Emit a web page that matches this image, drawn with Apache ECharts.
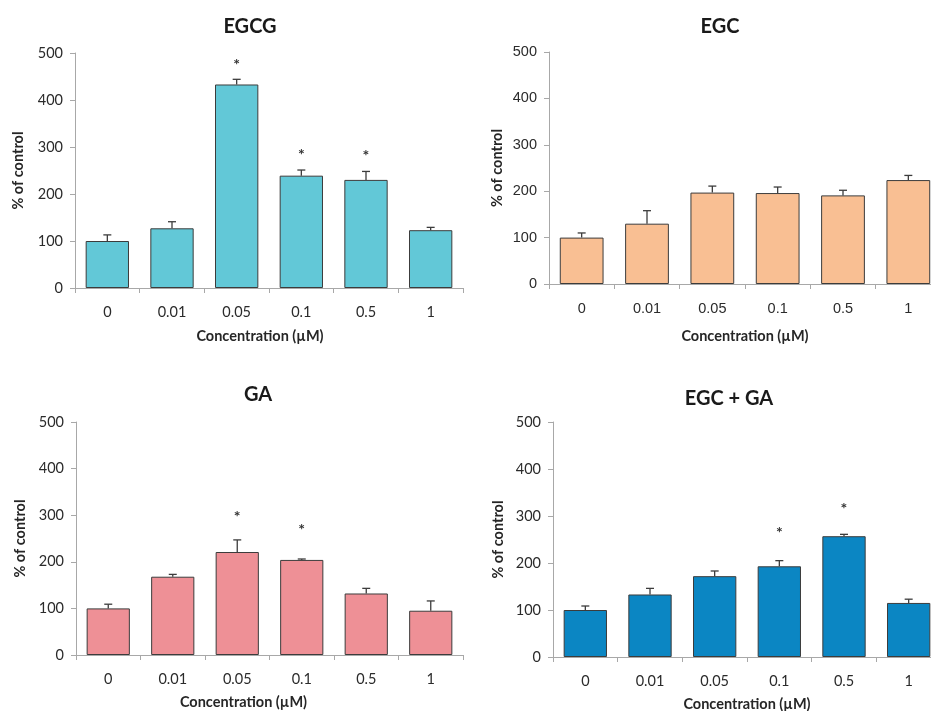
<!DOCTYPE html>
<html>
<head>
<meta charset="utf-8">
<script src="https://cdn.jsdelivr.net/npm/echarts@6/dist/echarts.min.js"></script>
<style>
html,body{margin:0;padding:0;background:#fff;}
#chart{width:931px;height:711px;}
</style>
</head>
<body>
<div id="chart"></div>
<script>
var categories = ['0', '0.01', '0.05', '0.1', '0.5', '1'];
var yTicks = [0, 100, 200, 300, 400, 500];

var egcgMean = [100, 127, 433, 239, 230, 123];
var egcgErr  = [13, 14, 11, 12, 18, 6];
var egcgStars = [null, null, 475, 283, 281, null];

var egcMean = [100, 130, 197, 196, 191, 224];
var egcErr  = [10, 28, 14, 13, 11, 10];
var egcStars = [null, null, null, null, null, null];

var gaMean = [100, 168, 221, 204, 132, 95];
var gaErr  = [9, 5, 26, 2, 11, 21];
var gaStars = [null, null, 296, 268, null, null];

var combMean = [100, 133, 172, 193, 257, 115];
var combErr  = [8.5, 13, 11, 12, 4, 8];
var combStars = [null, null, null, 265, 315, null];

var panels = [
  {title: 'EGCG', color: '#62c8d7', mean: egcgMean, err: egcgErr, stars: egcgStars,
   grid: {left: 75, top: 53, width: 388, height: 235}, font: 'Lato',
   titlePos: [250, 27], xGap: 41, xPad: [0, 18, 0, 0], yGap: 49},
  {title: 'EGC', color: '#f9bf93', mean: egcMean, err: egcErr, stars: egcStars,
   grid: {left: 549, top: 52, width: 392, height: 232}, font: 'Liberation Sans',
   titlePos: [720, 27], xGap: 45, xPad: [0, 0, 0, 0], yGap: 44},
  {title: 'GA', color: '#ee9096', mean: gaMean, err: gaErr, stars: gaStars,
   grid: {left: 76, top: 422, width: 387, height: 233}, font: 'Lato',
   titlePos: [258, 395], xGap: 40, xPad: [0, 52, 0, 0], yGap: 48},
  {title: 'EGC + GA', color: '#0b86c3', mean: combMean, err: combErr, stars: combStars,
   grid: {left: 553, top: 422, width: 388, height: 235}, font: 'Lato',
   titlePos: [729, 399], xGap: 40, xPad: [0, 0, 0, 0], yGap: 47}
];

var grids = [], xAxes = [], yAxes = [], series = [], graphics = [];
var axisGray = '#a8a8a8';

panels.forEach(function (p, i) {
  var g = Object.assign({outerBoundsMode: 'none', containLabel: false}, p.grid);
  grids.push(g);
  xAxes.push({
    type: 'category', gridIndex: i, data: categories, boundaryGap: true,
    name: 'Concentration (µM)', nameLocation: 'middle', nameGap: p.xGap,
    nameTextStyle: {fontFamily: 'Lato', fontWeight: 'bold', fontSize: 14.5, color: '#262626', padding: p.xPad},
    axisLine: {show: true, lineStyle: {color: axisGray, width: 1}},
    axisTick: {show: true, length: 5, inside: false, lineStyle: {color: axisGray}},
    axisLabel: {fontFamily: p.font, fontSize: 14.5, color: '#2b2b2b', margin: 17},
    splitLine: {show: false}
  });
  yAxes.push({
    type: 'value', gridIndex: i, min: 0, max: 500, interval: 100,
    name: '% of control', nameLocation: 'middle', nameGap: p.yGap, nameRotate: 90,
    nameTextStyle: {fontFamily: 'Lato', fontWeight: 'bold', fontSize: 14.5, color: '#262626'},
    axisLine: {show: true, lineStyle: {color: axisGray, width: 1}},
    axisTick: {show: true, length: 5, inside: false, lineStyle: {color: axisGray}},
    axisLabel: {fontFamily: p.font, fontSize: 14.5, color: '#2b2b2b', margin: 12,
      formatter: function (v) { return yTicks.indexOf(v) >= 0 ? String(v) : ''; }},
    splitLine: {show: false}
  });
  series.push({
    type: 'bar', xAxisIndex: i, yAxisIndex: i, data: p.mean,
    barCategoryGap: '33%',
    itemStyle: {color: p.color, borderColor: '#3c3c3c', borderWidth: 1},
    z: 2
  });
  var errData = p.mean.map(function (m, k) { return [k, m, m + p.err[k]]; });
  series.push({
    type: 'custom', xAxisIndex: i, yAxisIndex: i, data: errData, z: 3,
    renderItem: function (params, api) {
      var a = api.coord([api.value(0), api.value(1)]);
      var b = api.coord([api.value(0), api.value(2)]);
      var st = {stroke: '#3c3c3c', lineWidth: 1.3};
      return {type: 'group', children: [
        {type: 'line', shape: {x1: a[0], y1: a[1], x2: b[0], y2: b[1]}, style: st},
        {type: 'line', shape: {x1: b[0] - 4, y1: b[1], x2: b[0] + 4, y2: b[1]}, style: st}
      ]};
    }
  });
  var starData = [];
  p.stars.forEach(function (s, k) { if (s !== null) starData.push([k, s]); });
  series.push({
    type: 'custom', xAxisIndex: i, yAxisIndex: i, data: starData, z: 4,
    renderItem: function (params, api) {
      var c = api.coord([api.value(0), api.value(1)]);
      return {type: 'text', x: c[0], y: c[1],
        style: {text: '*', fontFamily: 'Lato', fontSize: 16, fontWeight: 'bold', fill: '#333',
          textAlign: 'center', textVerticalAlign: 'middle'}};
    }
  });
  graphics.push({
    type: 'text', x: p.titlePos[0], y: p.titlePos[1],
    style: {text: p.title, fontFamily: 'Lato', fontWeight: 'bold', fontSize: 20, fill: '#1a1a1a',
      textAlign: 'center', textVerticalAlign: 'middle'}
  });
});

var chart = echarts.init(document.getElementById('chart'));
chart.setOption({
  backgroundColor: '#fff',
  animation: false,
  grid: grids,
  xAxis: xAxes,
  yAxis: yAxes,
  series: series,
  graphic: graphics
});
</script>
</body>
</html>
